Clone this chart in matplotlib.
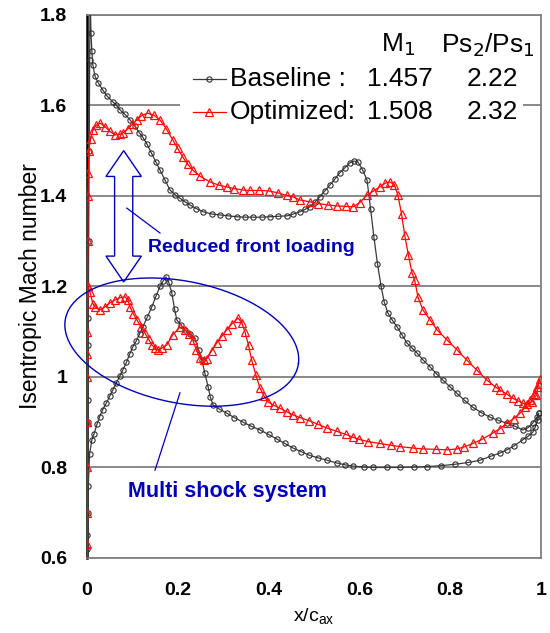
import numpy as np
import matplotlib
matplotlib.use("Agg")
from matplotlib import pyplot as plt
from matplotlib.patches import Polygon, Rectangle

plt.rcParams['font.family'] = ['Liberation Sans', 'DejaVu Sans']

# ---- data (x/c_ax, isentropic Mach) ----
# baseline, suction side (leading edge -> trailing edge)
base_ss_x = [0.0, 0.001, 0.002, 0.002, 0.002, 0.003, 0.004, 0.005, 0.006, 0.007, 0.009, 0.011,
             0.013, 0.018, 0.025, 0.035, 0.045, 0.057, 0.065, 0.073, 0.084, 0.095, 0.105, 0.115,
             0.123, 0.132, 0.142, 0.152, 0.161, 0.172, 0.183, 0.194, 0.205, 0.216, 0.227, 0.241,
             0.256, 0.275, 0.293, 0.31, 0.33, 0.348, 0.366, 0.385, 0.403, 0.422, 0.441, 0.455,
             0.469, 0.48, 0.491, 0.502, 0.513, 0.524, 0.535, 0.546, 0.557, 0.568, 0.579, 0.588,
             0.597, 0.607, 0.617, 0.625, 0.632, 0.64, 0.648, 0.655, 0.663, 0.673, 0.683, 0.694,
             0.705, 0.716, 0.727, 0.741, 0.756, 0.77, 0.784, 0.8, 0.815, 0.832, 0.85, 0.869,
             0.888, 0.906, 0.925, 0.943, 0.96, 0.972, 0.982, 0.991, 0.995]
base_ss_m = [0.45, 0.65, 0.9, 0.95, 1.07, 1.13, 1.3, 1.5, 1.7, 1.85, 1.76, 1.72,
             1.69, 1.664, 1.65, 1.634, 1.62, 1.608, 1.6, 1.59, 1.58, 1.568, 1.555, 1.54,
             1.53, 1.515, 1.495, 1.475, 1.457, 1.435, 1.413, 1.403, 1.395, 1.387, 1.38, 1.372,
             1.365, 1.36, 1.358, 1.356, 1.354, 1.353, 1.353, 1.353, 1.354, 1.355, 1.356, 1.36,
             1.365, 1.37, 1.376, 1.386, 1.398, 1.411, 1.424, 1.437, 1.451, 1.462, 1.473, 1.477,
             1.475, 1.458, 1.435, 1.37, 1.31, 1.25, 1.2, 1.165, 1.141, 1.125, 1.111, 1.093,
             1.075, 1.064, 1.053, 1.037, 1.022, 1.007, 0.993, 0.978, 0.964, 0.948, 0.933, 0.921,
             0.911, 0.904, 0.898, 0.891, 0.883, 0.888, 0.898, 0.911, 0.92]
# baseline, pressure side (leading edge -> trailing edge)
base_ps_x = [0.0, 0.001, 0.002, 0.003, 0.006, 0.011, 0.016, 0.022, 0.028, 0.035, 0.043, 0.05,
             0.057, 0.065, 0.072, 0.079, 0.087, 0.094, 0.101, 0.109, 0.116, 0.123, 0.133, 0.143,
             0.152, 0.161, 0.168, 0.174, 0.18, 0.187, 0.193, 0.198, 0.207, 0.216, 0.227, 0.238,
             0.246, 0.253, 0.26, 0.267, 0.272, 0.278, 0.29, 0.308, 0.325, 0.344, 0.362, 0.381,
             0.4, 0.418, 0.436, 0.454, 0.472, 0.49, 0.51, 0.529, 0.55, 0.568, 0.586, 0.61,
             0.63, 0.66, 0.69, 0.72, 0.75, 0.78, 0.81, 0.84, 0.866, 0.89, 0.91, 0.925,
             0.94, 0.96, 0.972, 0.982, 0.988, 0.993, 0.995]
base_ps_m = [0.45, 0.62, 0.7, 0.76, 0.83, 0.861, 0.875, 0.895, 0.912, 0.928, 0.943, 0.957,
             0.971, 0.987, 1.001, 1.015, 1.032, 1.05, 1.066, 1.08, 1.095, 1.11, 1.132, 1.155,
             1.178, 1.2, 1.212, 1.221, 1.21, 1.186, 1.15, 1.126, 1.115, 1.104, 1.095, 1.086,
             1.06, 1.037, 1.008, 0.978, 0.955, 0.938, 0.93, 0.92, 0.91, 0.9, 0.891, 0.883,
             0.873, 0.863, 0.853, 0.843, 0.835, 0.827, 0.821, 0.816, 0.81, 0.806, 0.803, 0.801,
             0.8, 0.8, 0.8, 0.801, 0.802, 0.804, 0.807, 0.811, 0.816, 0.825, 0.832, 0.839,
             0.847, 0.861, 0.869, 0.878, 0.89, 0.905, 0.92]

# optimized, suction side
opt_ss_x = [0.0, 0.0, 0.001, 0.001, 0.001, 0.002, 0.002, 0.003, 0.004, 0.008, 0.013, 0.02,
            0.029, 0.04, 0.05, 0.062, 0.072, 0.079, 0.09, 0.1, 0.11, 0.12, 0.134, 0.148,
            0.161, 0.175, 0.189, 0.2, 0.211, 0.222, 0.233, 0.25, 0.271, 0.29, 0.308, 0.325,
            0.344, 0.36, 0.38, 0.4, 0.42, 0.44, 0.454, 0.469, 0.491, 0.51, 0.53, 0.55,
            0.57, 0.586, 0.601, 0.617, 0.63, 0.645, 0.657, 0.667, 0.677, 0.685, 0.693, 0.7,
            0.708, 0.716, 0.722, 0.729, 0.74, 0.756, 0.771, 0.793, 0.815, 0.837, 0.859, 0.881,
            0.9, 0.91, 0.925, 0.938, 0.95, 0.96, 0.97, 0.98, 0.99, 0.995, 0.997]
opt_ss_m = [0.45, 0.7, 0.9, 1.05, 1.2, 1.3, 1.4, 1.45, 1.5, 1.525, 1.545, 1.556,
            1.561, 1.553, 1.543, 1.535, 1.536, 1.539, 1.548, 1.558, 1.568, 1.577, 1.583, 1.578,
            1.568, 1.548, 1.524, 1.505, 1.486, 1.47, 1.457, 1.443, 1.431, 1.424, 1.42, 1.416,
            1.413, 1.412, 1.412, 1.411, 1.407, 1.401, 1.398, 1.391, 1.387, 1.383, 1.38, 1.378,
            1.377, 1.376, 1.385, 1.402, 1.41, 1.42, 1.428, 1.431, 1.425, 1.402, 1.36, 1.313,
            1.27, 1.23, 1.214, 1.177, 1.148, 1.126, 1.104, 1.082, 1.06, 1.037, 1.015, 0.993,
            0.978, 0.971, 0.962, 0.953, 0.947, 0.942, 0.94, 0.945, 0.96, 0.985, 0.995]
# optimized, pressure side
opt_ps_x = [0.0, 0.0, 0.0, 0.001, 0.001, 0.001, 0.002, 0.007, 0.013, 0.018, 0.029, 0.04,
            0.051, 0.062, 0.073, 0.084, 0.09, 0.095, 0.102, 0.11, 0.12, 0.128, 0.136, 0.143,
            0.15, 0.156, 0.166, 0.176, 0.189, 0.205, 0.216, 0.225, 0.233, 0.241, 0.249, 0.257,
            0.264, 0.275, 0.286, 0.297, 0.308, 0.32, 0.333, 0.341, 0.348, 0.356, 0.363, 0.372,
            0.381, 0.39, 0.399, 0.412, 0.425, 0.44, 0.454, 0.47, 0.49, 0.51, 0.529, 0.55,
            0.57, 0.586, 0.6, 0.62, 0.645, 0.67, 0.69, 0.718, 0.74, 0.77, 0.793, 0.815,
            0.83, 0.85, 0.87, 0.894, 0.91, 0.925, 0.94, 0.954, 0.965, 0.976, 0.985, 0.991]
opt_ps_m = [0.45, 0.63, 0.8, 0.9, 1.0, 1.1, 1.2, 1.187, 1.162, 1.155, 1.148, 1.155,
            1.164, 1.17, 1.175, 1.177, 1.17, 1.155, 1.14, 1.126, 1.11, 1.097, 1.083, 1.071,
            1.063, 1.06, 1.064, 1.071, 1.093, 1.11, 1.104, 1.095, 1.082, 1.06, 1.042, 1.037,
            1.04, 1.058, 1.075, 1.09, 1.104, 1.118, 1.13, 1.12, 1.1, 1.07, 1.037, 1.005,
            0.976, 0.958, 0.945, 0.937, 0.931, 0.923, 0.916, 0.91, 0.903, 0.895, 0.887, 0.88,
            0.873, 0.867, 0.862, 0.857, 0.853, 0.849, 0.846, 0.843, 0.841, 0.84, 0.839, 0.841,
            0.845, 0.853, 0.862, 0.876, 0.886, 0.898, 0.908, 0.92, 0.933, 0.949, 0.963, 0.978]

x_ticks = [0, 0.2, 0.4, 0.6, 0.8, 1]
x_tick_labels = ['0', '0.2', '0.4', '0.6', '0.8', '1']
y_ticks = [0.6, 0.8, 1.0, 1.2, 1.4, 1.6, 1.8]
y_tick_labels = ['0.6', '0.8', '1', '1.2', '1.4', '1.6', '1.8']

legend_names = ['Baseline :', 'Optimized:']
legend_m1 = ['1.457', '1.508']
legend_pr = ['2.22', '2.32']

# ---- figure ----
fig = plt.figure(figsize=(5.5, 6.33), dpi=100)
ax = fig.add_axes([0.158, 0.1185, 0.8255, 0.858])
ax.set_xlim(0, 1)
ax.set_ylim(0.6, 1.8)

for yv in y_ticks:
    ax.axhline(yv, color='#808080', lw=1.3, zorder=1)

base_x = base_ss_x + base_ps_x[::-1]
base_m = base_ss_m + base_ps_m[::-1]
opt_x = opt_ss_x + opt_ps_x[::-1]
opt_m = opt_ss_m + opt_ps_m[::-1]

blk = dict(color='#3a3a3a', lw=0.9, marker='o', markersize=3.8, mfc='none',
           mec='#303030', mew=0.8)
red = dict(color='#ff0000', lw=0.9, marker='^', markersize=5.6, mfc='none',
           mec='#ff1010', mew=0.9)
ax.plot(base_x, base_m, zorder=3, **blk)
ax.plot(opt_x, opt_m, zorder=4, **red)

ax.set_xticks(x_ticks)
ax.set_xticklabels(x_tick_labels)
ax.set_yticks(y_ticks)
ax.set_yticklabels(y_tick_labels)
ax.tick_params(length=0, labelsize=14)
ax.tick_params(axis='y', pad=14)
ax.tick_params(axis='x', pad=17)
for lab in ax.get_xticklabels() + ax.get_yticklabels():
    lab.set_fontweight('bold')
for side in ['top', 'right', 'bottom']:
    ax.spines[side].set_color('#808080')
    ax.spines[side].set_linewidth(1.3)
ax.spines['left'].set_color('black')
ax.spines['left'].set_linewidth(1.8)

ax.set_ylabel('Isentropic Mach number', fontsize=16.5)
ax.yaxis.set_label_coords((42 - 87) / 454.0, 0.5)
ax.set_xlabel('x/c$_{\\mathregular{ax}}$', fontsize=14, labelpad=6)

# ---- annotations ----
blue = '#0000bb'
# double arrow (hollow)
cx, top, bot = 0.081, 1.50, 1.21
hw, sw, hl = 0.039, 0.020, 0.057
arrow = [(cx, top), (cx + hw, top - hl), (cx + sw, top - hl), (cx + sw, bot + hl),
         (cx + hw, bot + hl), (cx, bot), (cx - hw, bot + hl), (cx - sw, bot + hl),
         (cx - sw, top - hl), (cx - hw, top - hl)]
ax.add_patch(Polygon(arrow, closed=True, fill=False, ec=blue, lw=1.0, zorder=6))
ax.plot([0.088, 0.161], [1.373, 1.318], color=blue, lw=0.9, zorder=6)
ax.text(0.134, 1.285, 'Reduced front loading', color=blue, fontsize=14,
        fontweight='bold', va='center', ha='left', zorder=7)

# ellipse around the shock system (drawn in screen pixels)
px_x, px_y = 454.0, 452.5 / 1.2
ecx, ecy, ea, eb, phi = 0.209, 1.077, 118.0, 51.0, np.radians(8.6)
t = np.linspace(0, 2 * np.pi, 200)
dx = ea * np.cos(t) * np.cos(phi) - eb * np.sin(t) * np.sin(phi)
dy = ea * np.cos(t) * np.sin(phi) + eb * np.sin(t) * np.cos(phi)
ax.plot(ecx + dx / px_x, ecy - dy / px_y, color=blue, lw=1.0, zorder=6, clip_on=False)
ax.plot([0.205, 0.150], [0.965, 0.794], color=blue, lw=0.9, zorder=6)
ax.text(0.090, 0.746, 'Multi shock system', color=blue, fontsize=15.5,
        fontweight='bold', va='center', ha='left', zorder=7)

# ---- legend table (placed in reference pixels) ----
def axx(px):
    return (px - 87) / 454.0


def axy(py):
    return (558 - py) / 543.0


ax.add_patch(Rectangle((axx(180), axy(125)), axx(523) - axx(180), axy(28) - axy(125),
                       transform=ax.transAxes, fc='white', ec='none', zorder=8))
tk = dict(transform=ax.transAxes, fontsize=19, va='center', zorder=9)
ax.text(axx(398), axy(45), 'M$_1$', ha='center', **tk)
ax.text(axx(488), axy(45), 'Ps$_2$/Ps$_1$', ha='center', **tk)
rows = [79, 112]
styles = [blk, red]
for i in range(2):
    ax.plot([axx(193), axx(209.5), axx(226)], [axy(rows[i])] * 3, transform=ax.transAxes,
            zorder=9, markevery=[1], **styles[i])
    ax.text(axx(230), axy(rows[i]), legend_names[i], ha='left', **tk)
    ax.text(axx(400), axy(rows[i]), legend_m1[i], ha='center', **tk)
    ax.text(axx(492), axy(rows[i]), legend_pr[i], ha='center', **tk)

fig.savefig('out.png', dpi=100)
